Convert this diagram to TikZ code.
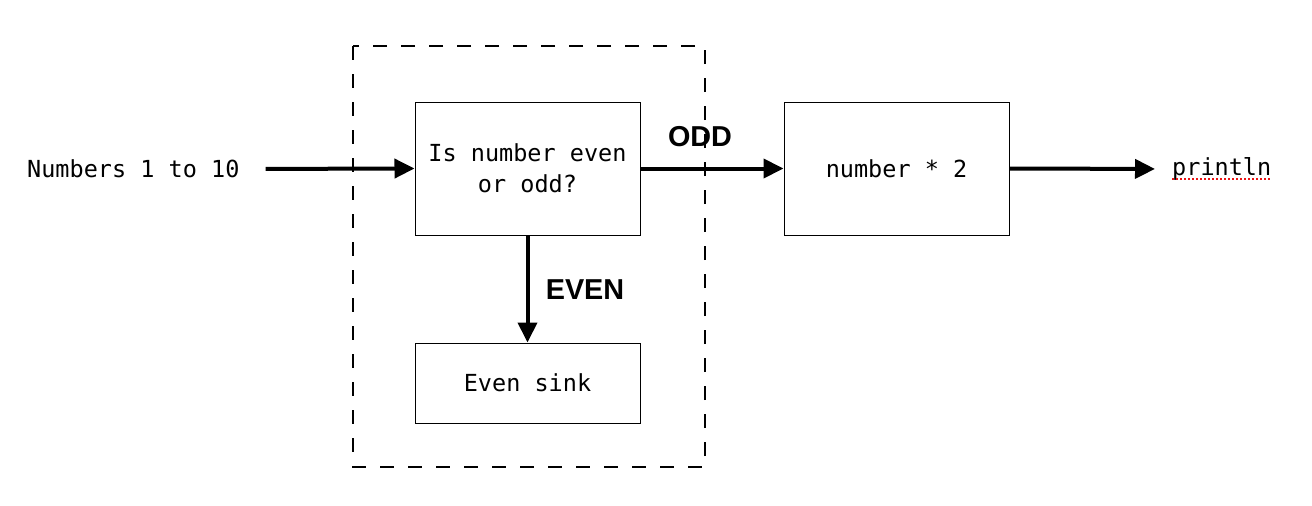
\documentclass[tikz,border=0pt]{standalone}
\usepackage{fontspec}
\setmonofont{DejaVu Sans Mono}
\setsansfont{Liberation Sans}
\usetikzlibrary{arrows.meta}
\definecolor{squiggle}{RGB}{235,20,20}
\begin{document}
\begin{tikzpicture}[x=1pt,y=-1pt,
  box/.style={draw,line width=1pt,inner sep=0pt,align=center,
    font=\ttfamily\fontsize{23.5}{31}\selectfont},
  txt/.style={inner sep=0pt,font=\ttfamily\fontsize{23.5}{31}\selectfont},
  lbl/.style={inner sep=0pt,font=\sffamily\bfseries\fontsize{28.8}{32}\selectfont},
  flow/.style={line width=4pt,-{Triangle[length=20pt,width=19pt]}}]
\useasboundingbox (0,0) rectangle (1312,506);
\draw[line width=2pt,dash pattern=on 14pt off 14pt] (353,46) rectangle (705,467);
\node[box,minimum width=225pt,minimum height=133pt] (b1) at (527.5,168.5) {Is number even\\or odd?};
\node[box,minimum width=225pt,minimum height=80pt] (b2) at (527.5,383) {Even sink};
\node[box,minimum width=225pt,minimum height=133pt] (b3) at (896.5,168.5) {number * 2};
\node[txt,anchor=west] (in) at (27,169) {Numbers 1 to 10};
\node[txt,anchor=west] (pl) at (1172,169) {println};
\draw[flow,shorten <=26pt] (in.east) -- (b1.west);
\draw[flow] (b1.east) -- (b3.west);
\draw[flow,shorten >=17pt] (b3.east) -- (pl.west);
\draw[flow] (b1.south) -- (b2.north);
\node[lbl] (odd) at (700,137) {ODD};
\node[lbl] (even) at (585,290) {EVEN};
\draw[squiggle,line width=2pt,dash pattern=on 2pt off 2pt] ([yshift=-3pt]pl.base west) -- ([yshift=-3pt]pl.base east);
\end{tikzpicture}
\end{document}
